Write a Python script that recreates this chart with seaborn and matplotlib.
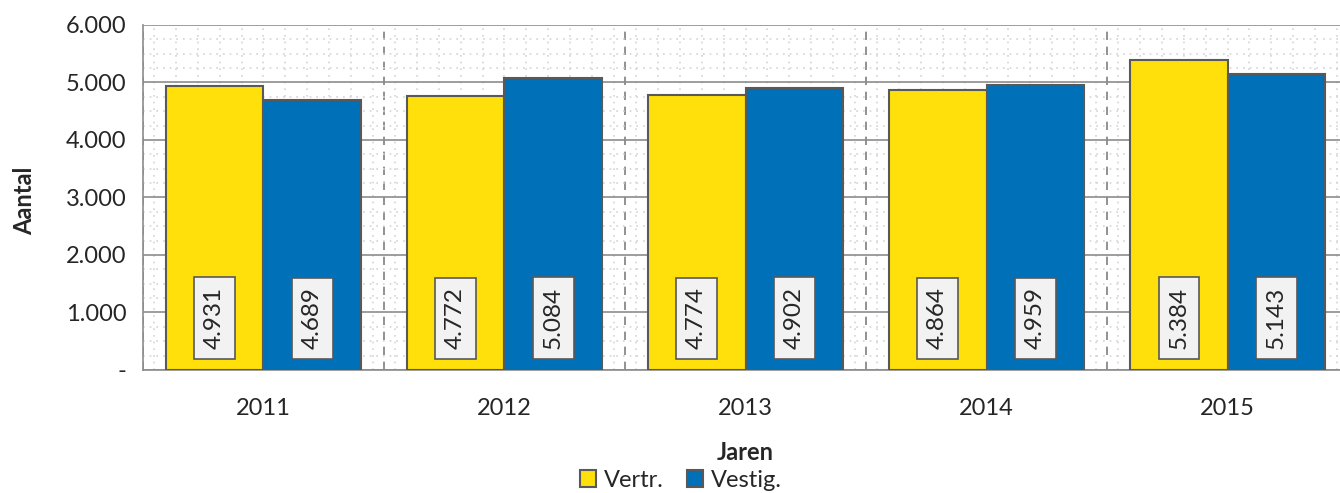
from matplotlib import pyplot as plt
from matplotlib.ticker import MultipleLocator, FixedLocator
import seaborn as sns
import pandas as pd

years = ['2011', '2012', '2013', '2014', '2015']
vertr = [4931, 4772, 4774, 4864, 5384]
vestig = [4689, 5084, 4902, 4959, 5143]
series = ['Vertr.', 'Vestig.']
colors = ['#FFE00B', '#0070B8']


def fmt(v):
    return '{:,}'.format(v).replace(',', '.')


df = pd.DataFrame({
    'Jaren': years * 2,
    'Aantal': vertr + vestig,
    'Reeks': [series[0]] * len(years) + [series[1]] * len(years),
})

sns.set_style('white')
plt.rcParams['font.family'] = ['Lato', 'DejaVu Sans']

fig = plt.figure(figsize=(13.4, 4.93), dpi=100)
ax = fig.add_axes([0.1067, 0.2495, 0.8993, 0.6998])

sns.barplot(data=df, x='Jaren', y='Aantal', hue='Reeks', palette=colors,
            width=0.81, saturation=1, edgecolor='#595959', linewidth=1.5,
            ax=ax, zorder=3)

ax.set_xlim(-0.5, len(years) - 0.5)
ax.set_ylim(0, 6000)

# gridlines
ax.yaxis.set_major_locator(MultipleLocator(1000))
ax.yaxis.set_minor_locator(MultipleLocator(250))
ax.xaxis.set_major_locator(FixedLocator([i - 0.5 for i in range(len(years) + 1)]))
ax.xaxis.set_minor_locator(MultipleLocator(1 / 11))
ax.grid(which='major', axis='y', color='#8c8c8c', linewidth=1.2, zorder=0)
ax.grid(which='major', axis='x', color='#7f7f7f', linewidth=1.2, linestyle=(0, (5, 4)), zorder=0)
ax.grid(which='minor', color='#d4d4d4', linewidth=1.2, linestyle=(0, (1, 3)), zorder=0)
ax.set_axisbelow(True)

ax.set_yticklabels(['-' if v == 0 else fmt(int(v)) for v in ax.get_yticks()], fontsize=17)
ax.set_xticklabels([''] * (len(years) + 1))
ax.tick_params(axis='both', which='major', length=9, width=1.2, color='#8c8c8c',
               direction='out', pad=3)
ax.tick_params(which='minor', length=0)
for i, y in enumerate(years):
    ax.text(i, -0.08, y, transform=ax.get_xaxis_transform(), ha='center', va='top', fontsize=17)

for s in ['left', 'bottom']:
    ax.spines[s].set_color('#8c8c8c')
    ax.spines[s].set_linewidth(1.2)
for s in ['top', 'right']:
    ax.spines[s].set_visible(False)

# value labels
for cont in ax.containers:
    for bar in cont:
        ax.text(bar.get_x() + bar.get_width() / 2, 900, fmt(int(round(bar.get_height()))),
                rotation=90, ha='center', va='center', fontsize=17.5, zorder=5,
                bbox=dict(boxstyle='square,pad=0.4', facecolor='#F2F2F2', edgecolor='#595959', linewidth=1.2))

ax.set_xlabel('Jaren', fontsize=17, fontweight='bold', va='center')
ax.xaxis.set_label_coords(0.5, -0.24)
ax.set_ylabel('Aantal', fontsize=17, fontweight='bold', va='center')
ax.yaxis.set_label_coords(-0.098, 0.49)

ax.legend_.remove()
handles, labels = ax.get_legend_handles_labels()
fig.legend(handles, labels, loc='center', bbox_to_anchor=(0.508, 0.026), ncol=2, frameon=False,
           fontsize=17, handlelength=0.7, handleheight=0.7, handletextpad=0.3,
           columnspacing=1.0, borderaxespad=0)

fig.savefig('out.png', dpi=100)
plt.close(fig)
